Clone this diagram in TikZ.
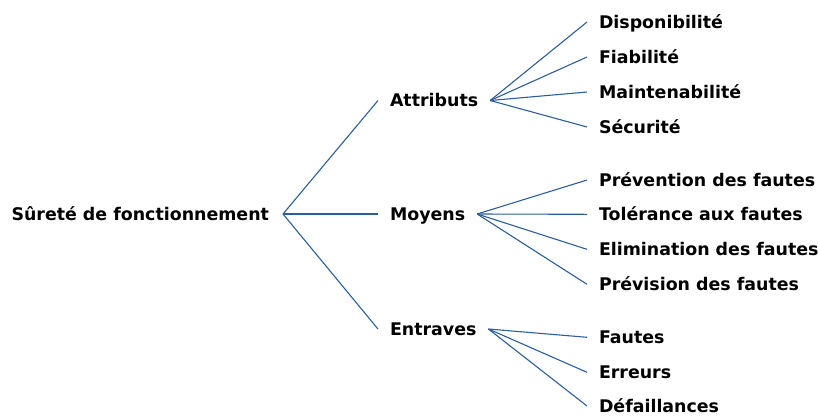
\documentclass[tikz,border=0pt]{standalone}
\usepackage{fontspec}
\setmainfont{DejaVu Sans}
\definecolor{linkblue}{HTML}{2A5E9E}
\tikzset{
  label/.style={inner sep=0pt, outer xsep=12pt, text height=12.7pt, text depth=0pt,
    font=\fontsize{17.4}{20}\selectfont\bfseries},
  link/.style={draw=linkblue, line width=1.1pt}
}
\begin{document}
\begin{tikzpicture}[x=1pt, y=-1pt]
    \useasboundingbox (0,0) rectangle (818,416);
    % Root
    \node [label, anchor=east, outer xsep=14pt] (root) at (283,214) {Sûreté de fonctionnement};
    % Middle level
    \node [label, anchor=west] (att) at (378,100.5) {Attributs};
    \node [label, anchor=west] (moy) at (378,214) {Moyens};
    \node [label, anchor=west] (ent) at (378,329) {Entraves};
    \draw [link] (root.east) -- (att.west);
    \draw [link] (root.east) -- (moy.west);
    \draw [link] (root.east) -- (ent.west);
    % Attributs
    \node [label, anchor=west] (dispo) at (587,22) {Disponibilité};
    \node [label, anchor=west] (fiab) at (587,57) {Fiabilité};
    \node [label, anchor=west] (maint) at (587,92) {Maintenabilité};
    \node [label, anchor=west] (secu) at (587,127) {Sécurité};
    \draw [link] (att.east) -- (dispo.west);
    \draw [link] (att.east) -- (fiab.west);
    \draw [link] (att.east) -- (maint.west);
    \draw [link] (att.east) -- (secu.west);
    % Moyens
    \node [label, anchor=west] (prev) at (587,180) {Prévention des fautes};
    \node [label, anchor=west] (tol) at (587,214.3) {Tolérance aux fautes};
    \node [label, anchor=west] (elim) at (587,249.3) {Elimination des fautes};
    \node [label, anchor=west] (previs) at (587,284.3) {Prévision des fautes};
    \draw [link] (moy.east) -- (prev.west);
    \draw [link] (moy.east) -- (tol.west);
    \draw [link] (moy.east) -- (elim.west);
    \draw [link] (moy.east) -- (previs.west);
    % Entraves
    \node [label, anchor=west] (fautes) at (587,337.3) {Fautes};
    \node [label, anchor=west] (erreurs) at (587,372.3) {Erreurs};
    \node [label, anchor=west] (defail) at (587,406) {Défaillances};
    \draw [link] (ent.east) -- (fautes.west);
    \draw [link] (ent.east) -- (erreurs.west);
    \draw [link] (ent.east) -- (defail.west);
\end{tikzpicture}
\end{document}
